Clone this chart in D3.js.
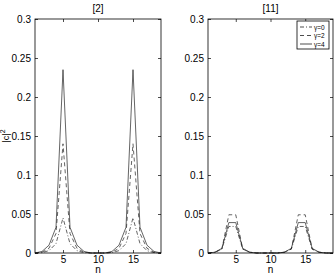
<!DOCTYPE html>
<html><head><meta charset="utf-8">
<script src="https://cdn.jsdelivr.net/npm/d3@7"></script>
<style>body{margin:0;background:#fff}svg{display:block}text{font-family:"Liberation Sans",Arial,sans-serif;fill:#000}</style>
</head><body>
<svg id="c" width="336" height="276"></svg>
<script>
const nVals = d3.range(1, 20);
const xTicks = [5, 10, 15];
const yTicks = [0, 0.05, 0.1, 0.15, 0.2, 0.25, 0.3];
const yTickLabels = ["0", "0.05", "0.1", "0.15", "0.2", "0.25", "0.3"];
const titles = ["[2]", "[11]"];
const legendLabels = ["\u03b3=0", "\u03b3=2", "\u03b3=4"];
// panel [2]
const left_g0 = [0,0.0005,0.003,0.012,0.045,0.012,0.003,0.0005,0,0,0,0.0005,0.003,0.012,0.045,0.012,0.003,0.0005,0];
const left_g2 = [0,0.001,0.006,0.025,0.14,0.025,0.006,0.001,0,0,0,0.001,0.006,0.025,0.14,0.025,0.006,0.001,0];
const left_g4 = [0,0.002,0.01,0.033,0.235,0.033,0.01,0.002,0,0,0,0.002,0.01,0.033,0.235,0.033,0.01,0.002,0];
// panel [11]
const right_g0 = [0,0.001,0.005,0.034,0.034,0.005,0.001,0,0,0,0,0.001,0.005,0.034,0.034,0.005,0.001,0,0];
const right_g2 = [0,0.001,0.005,0.049,0.049,0.005,0.001,0,0,0,0,0.001,0.005,0.049,0.049,0.005,0.001,0,0];
const right_g4 = [0,0.001,0.006,0.039,0.039,0.006,0.001,0,0,0,0,0.001,0.006,0.039,0.039,0.006,0.001,0,0];

const dashes = ["4,2,1,2", "4,3", null];
const panels = [
  {x0: 35, x1: 161, series: [left_g0, left_g2, left_g4], title: titles[0], legend: false},
  {x0: 208, x1: 333, series: [right_g0, right_g2, right_g4], title: titles[1], legend: true}
];
const yTop = 19, yBot = 253;
const svg = d3.select("#c");
const y = d3.scaleLinear().domain([0, 0.3]).range([yBot, yTop]);

panels.forEach(p => {
  const x = d3.scaleLinear().domain([1, 19]).range([p.x0, p.x1]);
  const g = svg.append("g");
  const line = d3.line().x((d, i) => x(nVals[i])).y(d => y(d));
  p.series.forEach((s, k) => {
    g.append("path").datum(s).attr("d", line).attr("fill", "none")
      .attr("stroke", "#222").attr("stroke-width", 0.7)
      .attr("stroke-dasharray", dashes[k]);
  });
  const ax = g.append("g").attr("transform", `translate(0,${yBot})`)
    .call(d3.axisBottom(x).tickValues(xTicks).tickSize(-3).tickPadding(3).tickFormat(d3.format("d")));
  const axT = g.append("g").attr("transform", `translate(0,${yTop})`)
    .call(d3.axisTop(x).tickValues(xTicks).tickSize(-3).tickFormat(""));
  const ay = g.append("g").attr("transform", `translate(${p.x0},0)`)
    .call(d3.axisLeft(y).tickValues(yTicks).tickSize(-3).tickPadding(4).tickFormat((d, i) => yTickLabels[i]));
  const ayR = g.append("g").attr("transform", `translate(${p.x1},0)`)
    .call(d3.axisRight(y).tickValues(yTicks).tickSize(-3).tickFormat(""));
  [ax, axT, ay, ayR].forEach(a => {
    a.select(".domain").remove();
    a.selectAll("line").attr("stroke", "#000").attr("stroke-width", 0.7);
    a.selectAll("text").attr("font-size", 10).attr("font-family", "Liberation Sans, Arial, sans-serif");
  });
  g.append("rect").attr("x", p.x0).attr("y", yTop).attr("width", p.x1 - p.x0).attr("height", yBot - yTop)
    .attr("fill", "none").attr("stroke", "#000").attr("stroke-width", 0.8);
  g.append("text").attr("x", (p.x0 + p.x1) / 2).attr("y", 12).attr("text-anchor", "middle")
    .attr("font-size", 10).text(p.title);
  g.append("text").attr("x", (p.x0 + p.x1) / 2).attr("y", 273).attr("text-anchor", "middle")
    .attr("font-size", 10).text("n");
  if (p.legend) {
    const lx = 297, ly = 21, lw = 32, lh = 28;
    const lg = g.append("g");
    lg.append("rect").attr("x", lx).attr("y", ly).attr("width", lw).attr("height", lh)
      .attr("fill", "#fff").attr("stroke", "#000").attr("stroke-width", 0.8);
    legendLabels.forEach((t, k) => {
      const yy = ly + 6 + k * 8.5;
      lg.append("line").attr("x1", lx + 3).attr("x2", lx + 15).attr("y1", yy).attr("y2", yy)
        .attr("stroke", "#000").attr("stroke-width", 0.7).attr("stroke-dasharray", dashes[k]);
      lg.append("text").attr("x", lx + 17).attr("y", yy + 2.5).attr("font-size", 6.5).text(t);
    });
  }
});
const yl = svg.append("text").attr("transform", "translate(9,136) rotate(-90)")
  .attr("text-anchor", "middle").attr("font-size", 9);
yl.append("tspan").text("|c|");
yl.append("tspan").attr("dy", -4).attr("font-size", 7).text("2");
</script>
</body></html>
